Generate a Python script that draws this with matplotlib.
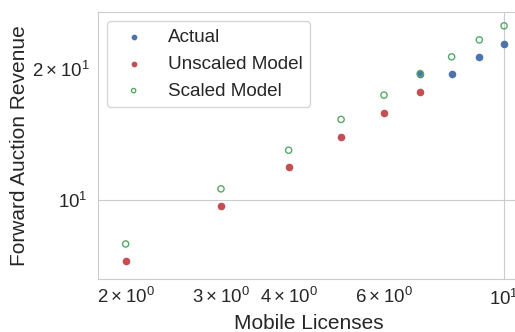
import matplotlib
matplotlib.use('Agg')
import matplotlib.pyplot as plt
import seaborn as sns

sns.set_style('whitegrid')
plt.rcParams['font.family'] = ['Liberation Sans', 'DejaVu Sans']

# data
actual_x = [7, 8, 9, 10]
actual_y = [19.5, 19.5, 21.3, 22.8]

unscaled_x = [2, 3, 4, 5, 6, 7]
unscaled_y = [7.24, 9.69, 11.9, 13.95, 15.85, 17.7]

scaled_x = [2, 3, 4, 5, 6, 7, 8, 9, 10]
scaled_y = [7.92, 10.6, 13.0, 15.3, 17.4, 19.5, 21.3, 23.3, 25.1]

blue = '#4C72B0'
red = '#C44E52'
green = '#55A868'

fig = plt.figure(figsize=(5.15, 3.32), dpi=100)
ax = fig.add_axes([0.1897, 0.1596, 0.82, 0.8042])

ax.scatter(actual_x, actual_y, s=20, color=blue, label='Actual')
ax.scatter(unscaled_x, unscaled_y, s=20, color=red, label='Unscaled Model')
ax.scatter(scaled_x, scaled_y, s=20, facecolors='none', edgecolors=green,
           linewidths=1, label='Scaled Model')

ax.set_xscale('log')
ax.set_yscale('log')
ax.set_xlim(1.776, 10.7)
ax.set_ylim(6.58, 27.0)

ax.set_xlabel('Mobile Licenses', fontsize=15)
ax.set_ylabel('Forward Auction Revenue', fontsize=15, labelpad=2)
ax.tick_params(which='both', labelsize=13.4)

ax.legend(loc='upper left', fontsize=13.6, frameon=True, markerscale=0.7)

fig.savefig('out.png', dpi=100)
